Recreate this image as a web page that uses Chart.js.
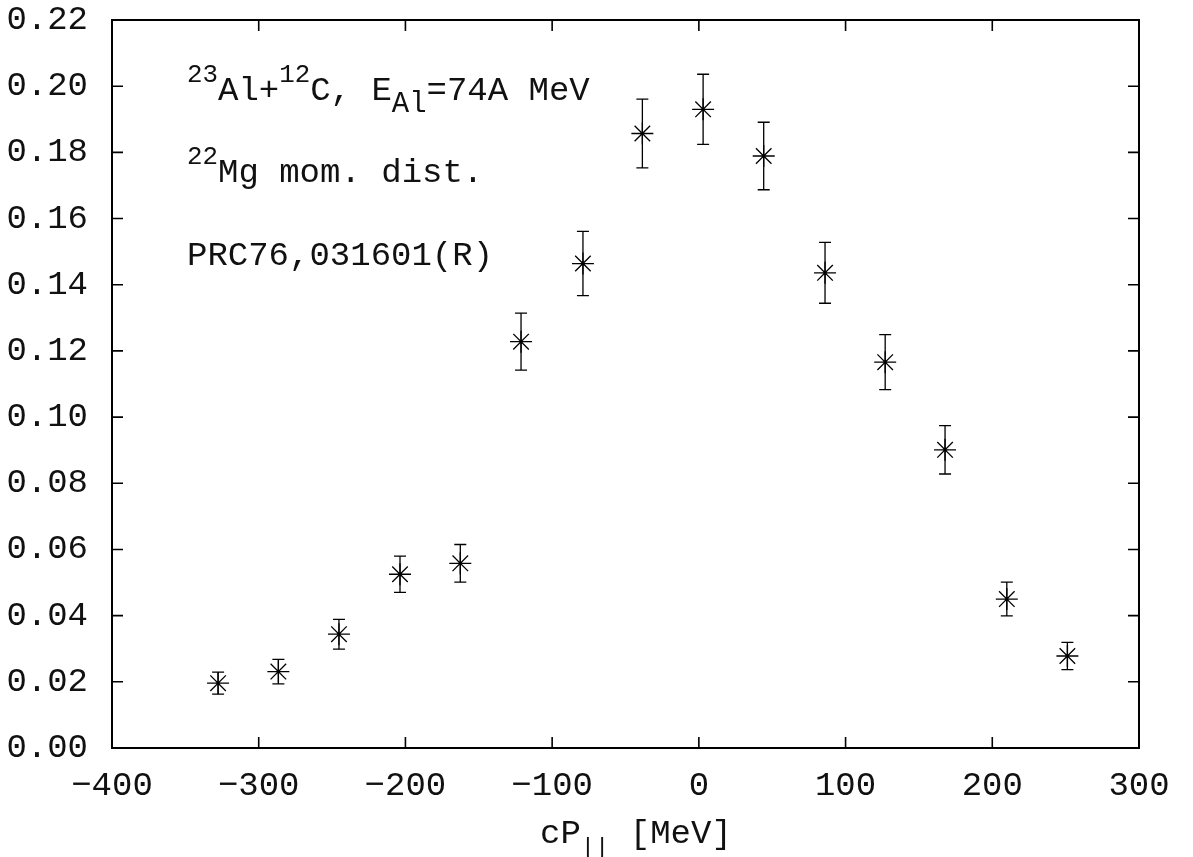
<!DOCTYPE html>
<html>
<head>
<meta charset="utf-8">
<script src="https://cdn.jsdelivr.net/npm/chart.js@4.4.1/dist/chart.umd.min.js"></script>
<style>
  html, body { margin: 0; background: #fff; }
</style>
</head>
<body>
<canvas id="c" width="1193" height="857"></canvas>
<script>
// 22Mg momentum distribution
const momentum = [-327.7, -286.6, -245.3, -203.7, -162.6, -121.2, -79.0, -38.5, 2.9, 44.2, 86.0, 127.0, 167.8, 209.9, 251.2];
const yieldVals = [0.0196, 0.0231, 0.0344, 0.0525, 0.0558, 0.1228, 0.1464, 0.1857, 0.1930, 0.1789, 0.1436, 0.1166, 0.0901, 0.0450, 0.0278];
const yieldErr = [0.0033, 0.0037, 0.0045, 0.0055, 0.0057, 0.0086, 0.0097, 0.0104, 0.0106, 0.0102, 0.0092, 0.0083, 0.0073, 0.0051, 0.0041];

// text pieces: [text, "sup" | "sub" | "small-sub" | ""]
const noteLines = [
  [["23", "sup"], ["Al+", ""], ["12", "sup"], ["C, E", ""], ["Al", "sub"], ["=74A MeV", ""]],
  [["22", "sup"], ["Mg mom. dist.", ""]],
  [["PRC76,031601(R)", ""]]
];
const xTitle = [["cP", ""], ["||", "small-sub"], [" [MeV]", ""]];

const FONT = "'Liberation Mono', 'DejaVu Sans Mono', monospace";
const SIZE = 34;
const INK = "#111";

function partSize(kind) {
  if (kind === "sup") return SIZE * 0.76;
  if (kind === "sub") return SIZE * 0.85;
  if (kind === "small-sub") return SIZE * 0.7;
  return SIZE;
}

function drawRich(ctx, parts, x, y) {
  let cx = x;
  for (const [txt, kind] of parts) {
    ctx.font = partSize(kind) + "px " + FONT;
    const dy = kind === "sup" ? -SIZE * 0.52 : kind ? SIZE * 0.36 : 0;
    ctx.fillText(txt, cx, y + dy);
    cx += ctx.measureText(txt).width;
  }
  return cx - x;
}

const framePlugin = {
  id: "frame",
  beforeDatasetsDraw(chart) {
    const { ctx, scales: { x, y } } = chart;
    ctx.save();
    ctx.strokeStyle = "#000";
    ctx.lineWidth = 1.3;
    momentum.forEach((m, i) => {
      const px = x.getPixelForValue(m);
      const top = y.getPixelForValue(yieldVals[i] + yieldErr[i]);
      const bot = y.getPixelForValue(yieldVals[i] - yieldErr[i]);
      ctx.beginPath();
      ctx.moveTo(px, top); ctx.lineTo(px, bot);
      ctx.moveTo(px - 6, top); ctx.lineTo(px + 6, top);
      ctx.moveTo(px - 6, bot); ctx.lineTo(px + 6, bot);
      ctx.stroke();
    });
    ctx.restore();
  },
  afterDraw(chart) {
    const { ctx, chartArea: a, scales: { x, y } } = chart;
    ctx.save();
    ctx.strokeStyle = "#000";
    ctx.lineWidth = 2;
    ctx.strokeRect(a.left, a.top, a.right - a.left, a.bottom - a.top);
    ctx.lineWidth = 1.6;
    ctx.beginPath();
    x.ticks.forEach(t => {
      const px = x.getPixelForValue(t.value);
      ctx.moveTo(px, a.bottom); ctx.lineTo(px, a.bottom - 11);
      ctx.moveTo(px, a.top); ctx.lineTo(px, a.top + 11);
    });
    y.ticks.forEach(t => {
      const py = y.getPixelForValue(t.value);
      ctx.moveTo(a.left, py); ctx.lineTo(a.left + 11, py);
      ctx.moveTo(a.right, py); ctx.lineTo(a.right - 11, py);
    });
    ctx.stroke();

    ctx.fillStyle = INK;
    ctx.textBaseline = "alphabetic";
    ctx.textAlign = "left";
    const baselines = [100, 182, 265];
    noteLines.forEach((parts, i) => drawRich(ctx, parts, 187, baselines[i]));

    // axis title, starts roughly where the reference one does
    drawRich(ctx, xTitle, 540, 843);
    ctx.restore();
  }
};

new Chart(document.getElementById("c"), {
  type: "scatter",
  data: {
    datasets: [{
      data: momentum.map((m, i) => ({ x: m, y: yieldVals[i] })),
      pointStyle: "star",
      pointRadius: 11,
      pointBorderWidth: 1.3,
      pointBorderColor: "#000",
      pointBackgroundColor: "rgba(0,0,0,0)"
    }]
  },
  options: {
    responsive: false,
    animation: false,
    layout: { padding: { top: 20, right: 54, left: 0, bottom: 0 } },
    plugins: { legend: { display: false }, tooltip: { enabled: false } },
    scales: {
      x: {
        type: "linear",
        min: -400, max: 300,
        grid: { display: false, drawTicks: false },
        border: { display: false },
        afterFit: s => { s.height = 109; },
        ticks: {
          stepSize: 100,
          padding: 18,
          color: INK,
          font: { family: FONT, size: SIZE },
          maxRotation: 0,
          callback: v => String(v).replace("-", "\u2212")
        }
      },
      y: {
        type: "linear",
        min: 0, max: 0.22,
        grid: { display: false, drawTicks: false },
        border: { display: false },
        afterFit: s => { s.width = 112; s.paddingTop = 0; s.paddingBottom = 0; },
        ticks: {
          stepSize: 0.02,
          padding: 24,
          color: INK,
          font: { family: FONT, size: SIZE },
          callback: v => v.toFixed(2)
        }
      }
    }
  },
  plugins: [framePlugin]
});
</script>
</body>
</html>
